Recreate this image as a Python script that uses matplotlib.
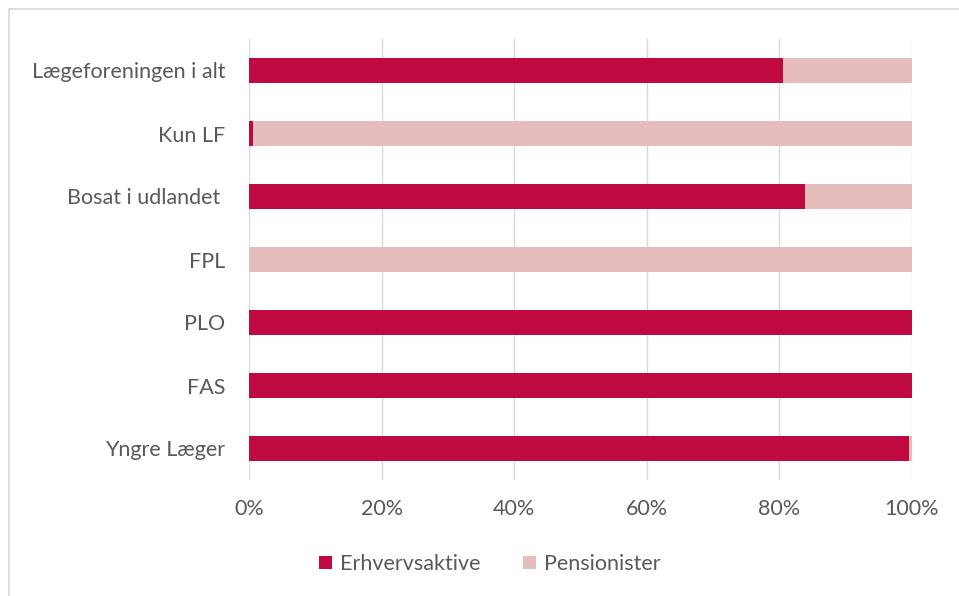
import matplotlib
matplotlib.use("Agg")
import matplotlib.pyplot as plt
from matplotlib.patches import Rectangle
from matplotlib.ticker import PercentFormatter

categories = ["Lægeforeningen i alt", "Kun LF", "Bosat i udlandet ", "FPL", "PLO", "FAS", "Yngre Læger"]
erhvervsaktive = [80.5, 0.6, 83.9, 0.0, 100.0, 100.0, 99.5]
pensionister = [19.5, 99.4, 16.1, 100.0, 0.0, 0.0, 0.5]
xticks = [0, 20, 40, 60, 80, 100]

dark = "#BE0A41"
light = "#E6BDBD"
txt = "#595959"

plt.rcParams['font.family'] = ['Lato', 'DejaVu Sans']
fs = 15.5

fig = plt.figure(figsize=(9.59, 5.96), dpi=100)
ax = fig.add_axes([249/959, 1-480/596, (912-249)/959, (480-39)/596])

y = list(range(len(categories)))
ax.barh(y, erhvervsaktive, height=0.4, color=dark, label="Erhvervsaktive", zorder=3)
ax.barh(y, pensionister, left=erhvervsaktive, height=0.4, color=light, label="Pensionister", zorder=3)

ax.set_ylim(len(categories) - 0.5, -0.5)
ax.set_xlim(0, 100)
ax.set_yticks(y)
ax.set_yticklabels(categories)
ax.set_xticks(xticks)
ax.xaxis.set_major_formatter(PercentFormatter(decimals=0))
ax.tick_params(axis='both', length=0, labelsize=fs, labelcolor=txt)
ax.tick_params(axis='y', pad=17)
ax.tick_params(axis='x', pad=14)
ax.grid(axis='x', color="#D9D9D9", linewidth=1.0, zorder=0)
for s in ax.spines.values():
    s.set_visible(False)

leg = fig.legend(loc="center", bbox_to_anchor=(490/959, 1-564/596), ncol=2, frameon=False,
                 fontsize=fs, handlelength=0.6, handleheight=0.6, columnspacing=2.0, handletextpad=0.35)
for t in leg.get_texts():
    t.set_color(txt)

fig.patches.append(Rectangle((9/959, -0.1), 1.2, 1-9/596 + 0.1, transform=fig.transFigure,
                             fill=False, edgecolor="#D9D9D9", linewidth=1.2))

fig.savefig("out.png", dpi=100)
